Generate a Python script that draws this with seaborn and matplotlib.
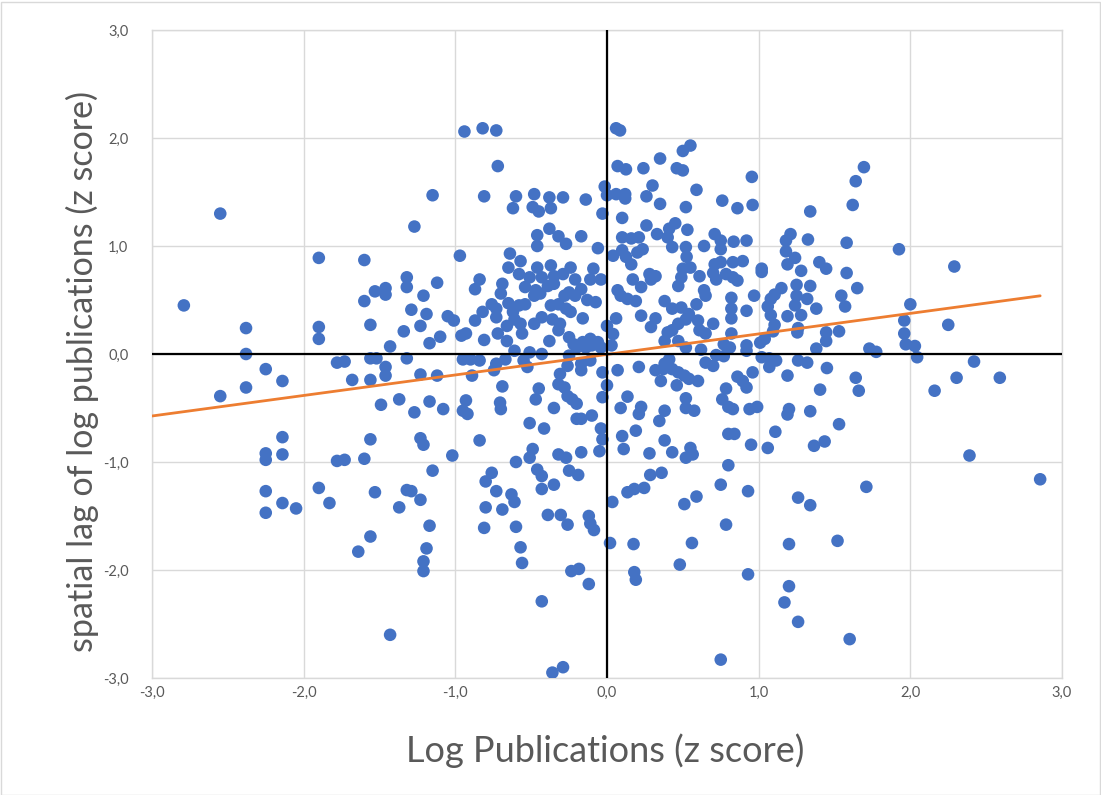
import matplotlib
matplotlib.use("Agg")
import matplotlib.pyplot as plt
import matplotlib.ticker as mticker
from matplotlib.patches import Rectangle
import numpy as np
import pandas as pd
import seaborn as sns

# ---------------- data ----------------
# (log publications z score, spatial lag z score) grouped by region of the plot
pts_far_left = [(-2.55, 1.30), (-2.79, 0.45), (-2.38, 0.24), (-2.38, 0.0), (-2.25, -0.14), (-2.14, -0.25),
                (-2.38, -0.31), (-2.55, -0.39), (-2.14, -0.77), (-2.14, -0.93), (-2.25, -0.92), (-2.25, -0.98),
                (-2.25, -1.27), (-2.14, -1.38), (-2.25, -1.47), (-2.05, -1.43)]

pts_left = [(-1.15, 1.47), (-1.27, 1.18), (-1.90, 0.89), (-1.60, 0.87), (-1.32, 0.71), (-1.32, 0.62), (-1.46, 0.61),
            (-1.53, 0.58), (-1.46, 0.55), (-1.12, 0.66), (-1.60, 0.49), (-1.21, 0.54), (-1.29, 0.41), (-1.19, 0.37),
            (-1.05, 0.35), (-1.01, 0.31), (-1.90, 0.25), (-1.90, 0.14), (-1.56, 0.27), (-1.34, 0.21), (-1.23, 0.26),
            (-1.10, 0.16), (-1.17, 0.10), (-1.43, 0.07),
            (-1.78, -0.08), (-1.73, -0.07), (-1.56, -0.04), (-1.52, -0.04), (-1.32, -0.04), (-1.46, -0.12),
            (-1.46, -0.20), (-1.68, -0.24), (-1.56, -0.24), (-1.23, -0.19), (-1.12, -0.20), (-1.49, -0.47),
            (-1.37, -0.42), (-1.27, -0.54), (-1.17, -0.44), (-1.08, -0.51), (-1.56, -0.79), (-1.23, -0.78),
            (-1.21, -0.84), (-1.78, -0.99), (-1.73, -0.98), (-1.60, -0.97), (-1.02, -0.94), (-1.15, -1.08),
            (-1.90, -1.24), (-1.83, -1.38), (-1.53, -1.28), (-1.32, -1.26), (-1.29, -1.27), (-1.23, -1.35),
            (-1.37, -1.42), (-1.17, -1.59), (-1.56, -1.69), (-1.64, -1.83), (-1.19, -1.80), (-1.21, -1.92),
            (-1.21, -2.01), (-1.43, -2.60)]

pts_center_left_top = [(-0.94, 2.06), (-0.82, 2.09), (-0.73, 2.07), (-0.72, 1.74), (-0.81, 1.46), (-0.60, 1.46),
                       (-0.48, 1.48), (-0.38, 1.45), (-0.29, 1.45), (-0.14, 1.43), (-0.015, 1.55), (0.0, 1.47),
                       (-0.62, 1.35), (-0.49, 1.36), (-0.45, 1.32), (-0.37, 1.35), (-0.03, 1.30), (-0.38, 1.16),
                       (-0.46, 1.10), (-0.32, 1.09), (-0.27, 1.02), (-0.17, 1.09), (-0.46, 1.00), (-0.06, 0.98)]

pts_center_left_mid = [(-0.97, 0.91), (-0.64, 0.93), (-0.57, 0.86), (-0.65, 0.80), (-0.46, 0.80), (-0.37, 0.82),
                       (-0.24, 0.80), (-0.09, 0.79), (-0.58, 0.74), (-0.51, 0.71), (-0.84, 0.69), (-0.87, 0.60),
                       (-0.69, 0.65), (-0.43, 0.71), (-0.35, 0.72), (-0.29, 0.74), (-0.21, 0.69), (-0.11, 0.69),
                       (-0.04, 0.69), (-0.54, 0.62), (-0.47, 0.59), (-0.39, 0.63), (-0.35, 0.65), (-0.25, 0.57),
                       (-0.17, 0.60), (-0.70, 0.56), (-0.48, 0.54), (-0.44, 0.56), (-0.28, 0.54), (-0.21, 0.54),
                       (-0.13, 0.50), (-0.075, 0.48), (-0.76, 0.46), (-0.65, 0.47), (-0.58, 0.45), (-0.54, 0.46),
                       (-0.37, 0.45), (-0.32, 0.46), (-0.27, 0.42), (-0.24, 0.39), (-0.82, 0.39), (-0.73, 0.42),
                       (-0.62, 0.39), (-0.87, 0.31), (-0.73, 0.34), (-0.61, 0.32), (-0.48, 0.28), (-0.43, 0.34),
                       (-0.36, 0.32), (-0.31, 0.28), (-0.16, 0.33), (-0.66, 0.26), (-0.57, 0.28), (0.0, 0.26),
                       (-0.93, 0.19), (-0.96, 0.17), (-0.72, 0.19), (-0.56, 0.19), (-0.32, 0.22), (-0.25, 0.155),
                       (-0.81, 0.13), (-0.66, 0.12), (-0.38, 0.12), (-0.22, 0.09), (-0.16, 0.11), (-0.11, 0.14),
                       (-0.06, 0.11), (-0.20, 0.06), (-0.14, 0.06), (-0.10, 0.08), (-0.04, 0.06), (-0.61, 0.03),
                       (-0.51, 0.015), (-0.43, 0.0), (-0.25, -0.015), (-0.95, -0.05), (-0.84, -0.06), (-0.90, -0.05),
                       (-0.67, -0.05), (-0.73, -0.09), (-0.55, -0.06), (-0.26, -0.11), (-0.17, -0.09), (-0.11, -0.06),
                       (-0.745, -0.15), (-0.525, -0.12), (-0.89, -0.20), (-0.31, -0.185), (-0.17, -0.15), (-0.03, -0.17),
                       (-0.69, -0.30), (-0.45, -0.32), (-0.32, -0.28), (-0.28, -0.31), (-0.26, -0.39), (0.0, -0.29),
                       (-0.93, -0.43), (-0.705, -0.45), (-0.47, -0.42), (-0.23, -0.42), (-0.20, -0.46), (-0.03, -0.40),
                       (-0.95, -0.525), (-0.92, -0.555), (-0.70, -0.51), (-0.35, -0.50), (-0.20, -0.60), (-0.17, -0.60),
                       (-0.10, -0.57), (-0.51, -0.64), (-0.415, -0.69), (-0.04, -0.69), (-0.03, -0.79), (-0.84, -0.80),
                       (-0.49, -0.88), (-0.51, -0.96), (-0.32, -0.93), (-0.27, -0.96), (-0.17, -0.91), (-0.05, -0.90),
                       (-0.60, -1.0)]

pts_center_left_low = [(-0.76, -1.10), (-0.80, -1.18), (-0.46, -1.07), (-0.43, -1.13), (-0.25, -1.08), (-0.19, -1.12),
                       (-0.73, -1.27), (-0.63, -1.30), (-0.61, -1.37), (-0.43, -1.25), (-0.35, -1.21), (-0.80, -1.42),
                       (-0.69, -1.44), (-0.39, -1.49), (-0.305, -1.49), (-0.26, -1.58), (-0.12, -1.50), (-0.11, -1.57),
                       (-0.086, -1.63), (-0.81, -1.61), (-0.60, -1.60), (-0.57, -1.79), (-0.56, -1.935), (-0.235, -2.01),
                       (-0.185, -1.99), (-0.12, -2.13), (-0.43, -2.29), (-0.36, -2.95), (-0.29, -2.90)]

pts_center_right_top = [(0.06, 2.09), (0.086, 2.07), (0.55, 1.93), (0.50, 1.88), (0.35, 1.81), (0.07, 1.74),
                        (0.125, 1.71), (0.24, 1.72), (0.46, 1.72), (0.50, 1.70), (0.955, 1.64), (0.30, 1.56),
                        (0.59, 1.52), (0.06, 1.48), (0.12, 1.48), (0.12, 1.44), (0.26, 1.46), (0.35, 1.39),
                        (0.52, 1.36), (0.76, 1.42), (0.86, 1.35), (0.96, 1.38), (0.10, 1.26), (0.26, 1.19),
                        (0.45, 1.21), (0.41, 1.16), (0.53, 1.15), (0.33, 1.11), (0.40, 1.08), (0.10, 1.08),
                        (0.16, 1.07), (0.21, 1.08), (0.71, 1.11), (0.75, 1.05), (0.835, 1.04), (0.92, 1.05)]

pts_center_right_mid = [(0.04, 0.91), (0.10, 0.96), (0.125, 0.90), (0.16, 0.83), (0.20, 0.94), (0.235, 0.97),
                        (0.43, 0.99), (0.52, 0.99), (0.525, 0.90), (0.64, 1.00), (0.75, 0.97),
                        (0.50, 0.79), (0.55, 0.80), (0.71, 0.83), (0.75, 0.85), (0.83, 0.85), (0.895, 0.86),
                        (0.28, 0.74), (0.32, 0.72), (0.49, 0.71), (0.61, 0.72), (0.70, 0.75), (0.72, 0.69),
                        (0.785, 0.74), (0.83, 0.71), (0.86, 0.68), (0.17, 0.69), (0.29, 0.69), (0.225, 0.62),
                        (0.47, 0.63), (0.07, 0.59), (0.09, 0.54), (0.135, 0.51), (0.19, 0.49), (0.64, 0.59),
                        (0.65, 0.54), (0.97, 0.54), (0.82, 0.52), (0.38, 0.49), (0.59, 0.46), (0.43, 0.42),
                        (0.49, 0.43), (0.54, 0.37), (0.52, 0.32), (0.82, 0.42), (0.82, 0.33), (0.92, 0.40),
                        (0.225, 0.355), (0.06, 0.33), (0.32, 0.33), (0.29, 0.25), (0.47, 0.28), (0.43, 0.22),
                        (0.40, 0.20), (0.60, 0.31), (0.61, 0.22), (0.65, 0.19), (0.70, 0.28), (0.04, 0.185),
                        (0.38, 0.12), (0.47, 0.12), (0.52, 0.06), (0.82, 0.19), (0.77, 0.09), (0.81, 0.06),
                        (0.92, 0.08), (0.92, 0.03), (0.03, 0.08), (0.62, 0.04), (0.72, -0.01), (0.77, -0.02),
                        (0.41, -0.05), (0.38, -0.09), (0.65, -0.08), (0.70, -0.11), (0.07, -0.15), (0.21, -0.12),
                        (0.32, -0.15), (0.37, -0.14), (0.43, -0.14), (0.47, -0.17), (0.51, -0.20), (0.54, -0.23),
                        (0.60, -0.25), (0.355, -0.25), (0.46, -0.29), (0.86, -0.21), (0.895, -0.25), (0.92, -0.31),
                        (0.96, -0.17), (0.785, -0.32), (0.76, -0.42), (0.135, -0.395), (0.52, -0.41), (0.09, -0.50),
                        (0.225, -0.49), (0.21, -0.555), (0.52, -0.50), (0.575, -0.525), (0.38, -0.525), (0.345, -0.62),
                        (0.80, -0.49), (0.83, -0.51), (0.94, -0.51), (0.99, -0.49), (0.19, -0.71), (0.10, -0.76),
                        (0.38, -0.80), (0.80, -0.74), (0.84, -0.74), (0.11, -0.88), (0.28, -0.92), (0.43, -0.91),
                        (0.55, -0.87), (0.52, -0.96), (0.565, -0.93), (0.95, -0.84), (0.80, -1.03)]

pts_center_right_low = [(0.285, -1.12), (0.36, -1.10), (0.135, -1.28), (0.18, -1.25), (0.245, -1.24), (0.75, -1.21),
                        (0.93, -1.27), (0.035, -1.37), (0.51, -1.39), (0.59, -1.32), (0.785, -1.58), (0.02, -1.75),
                        (0.175, -1.76), (0.56, -1.75), (0.48, -1.95), (0.18, -2.02), (0.19, -2.09), (0.93, -2.04),
                        (0.75, -2.83)]

pts_right_top = [(1.694, 1.73), (1.64, 1.60), (1.62, 1.38), (1.34, 1.32), (1.21, 1.11), (1.18, 1.05), (1.325, 1.06),
                 (1.58, 1.03), (1.925, 0.97), (1.18, 0.95), (1.24, 0.89), (1.19, 0.83), (1.02, 0.79), (1.02, 0.76),
                 (1.40, 0.85), (1.445, 0.79), (1.28, 0.77), (1.58, 0.75), (2.29, 0.81), (1.15, 0.61), (1.105, 0.55),
                 (1.08, 0.51), (1.25, 0.64), (1.34, 0.63), (1.65, 0.61), (1.25, 0.54), (1.24, 0.45), (1.32, 0.51),
                 (1.545, 0.54), (1.57, 0.44), (1.06, 0.44), (1.08, 0.36), (1.38, 0.42), (2.0, 0.46), (1.19, 0.35),
                 (1.28, 0.36), (1.105, 0.27), (1.095, 0.21), (1.26, 0.24), (1.255, 0.20), (1.96, 0.31), (2.25, 0.27),
                 (1.53, 0.21), (1.445, 0.20), (1.445, 0.12), (1.04, 0.14), (1.01, 0.105), (1.96, 0.19), (1.97, 0.09),
                 (2.03, 0.074), (1.38, 0.05), (1.73, 0.05), (1.775, 0.02)]

pts_right_low = [(1.02, -0.03), (1.07, -0.04), (1.115, -0.06), (1.07, -0.12), (1.26, -0.06), (1.32, -0.08),
                 (2.045, -0.03), (2.42, -0.07), (1.45, -0.13), (1.19, -0.20), (1.64, -0.22), (1.66, -0.34),
                 (2.305, -0.22), (2.59, -0.22), (1.405, -0.33), (2.16, -0.34), (1.20, -0.51), (1.19, -0.56),
                 (1.34, -0.53), (1.53, -0.65), (1.11, -0.72), (1.06, -0.87), (1.365, -0.85), (1.435, -0.81),
                 (2.39, -0.94), (1.71, -1.23), (1.26, -1.33), (1.34, -1.40), (2.856, -1.16), (1.20, -1.76),
                 (1.52, -1.73), (1.20, -2.15), (1.17, -2.30), (1.26, -2.48), (1.60, -2.64)]

# linear trend line (as shown in the chart)
trend_slope = 0.19
trend_intercept = -0.004

x_label = "Log Publications (z score)"
y_label = "spatial lag of log publications (z score)"
tick_values = [-3.0, -2.0, -1.0, 0.0, 1.0, 2.0, 3.0]

# ---------------- build table ----------------
all_pts = (pts_far_left + pts_left + pts_center_left_top + pts_center_left_mid + pts_center_left_low
           + pts_center_right_top + pts_center_right_mid + pts_center_right_low + pts_right_top + pts_right_low)
df = pd.DataFrame(all_pts, columns=["log_pub_z", "lag_z"])

# ---------------- style ----------------
sns.set_theme(style="white")
plt.rcParams["font.family"] = ["Lato", "DejaVu Sans"]

W, H = 1101, 795
fig = plt.figure(figsize=(W / 100, H / 100), dpi=100)
fig.patch.set_facecolor("white")
ax = fig.add_axes([152 / W, 1 - 678 / H, (1062 - 152) / W, (678 - 30) / H])

grid_c = "#D9D9D9"
text_c = "#595959"

sns.scatterplot(data=df, x="log_pub_z", y="lag_z", ax=ax, color="#4472C4", s=82,
                linewidth=0, edgecolor="none", zorder=3, legend=False)

xs = np.array([-3.0, df["log_pub_z"].max()])
sns.lineplot(x=xs, y=trend_slope * xs + trend_intercept, ax=ax, color="#ED7D31",
             linewidth=2.0, zorder=4)

ax.axhline(0, color="black", linewidth=1.6, zorder=5)
ax.axvline(0, color="black", linewidth=1.6, zorder=5)

ax.set_xlim(-3, 3)
ax.set_ylim(-3, 3)
ax.set_xticks(tick_values)
ax.set_yticks(tick_values)
fmt = mticker.FuncFormatter(lambda v, p: f"{v:.1f}".replace(".", ","))
ax.xaxis.set_major_formatter(fmt)
ax.yaxis.set_major_formatter(fmt)
ax.grid(True, color=grid_c, linewidth=1.0, zorder=0)
ax.set_axisbelow(True)
for sp in ax.spines.values():
    sp.set_color(grid_c)
    sp.set_linewidth(1.0)
ax.tick_params(axis="x", length=0, pad=6, labelsize=10.5, colors=text_c)
ax.tick_params(axis="y", length=0, pad=17, labelsize=10.5, colors=text_c)
ax.set_xlabel("")
ax.set_ylabel("")

fig.text(605 / W, 1 - 751 / H, x_label, ha="center", va="center", fontsize=26, color=text_c)
fig.text(82 / W, 1 - 371 / H, y_label, ha="center", va="center", rotation=90, fontsize=24.5, color=text_c)

fig.patches.append(Rectangle((0.5 / W, 0.5 / H), 1 - 2 / W, 1 - 2 / H, transform=fig.transFigure,
                             fill=False, edgecolor=grid_c, linewidth=1.0))

fig.savefig("out.png", dpi=100)
